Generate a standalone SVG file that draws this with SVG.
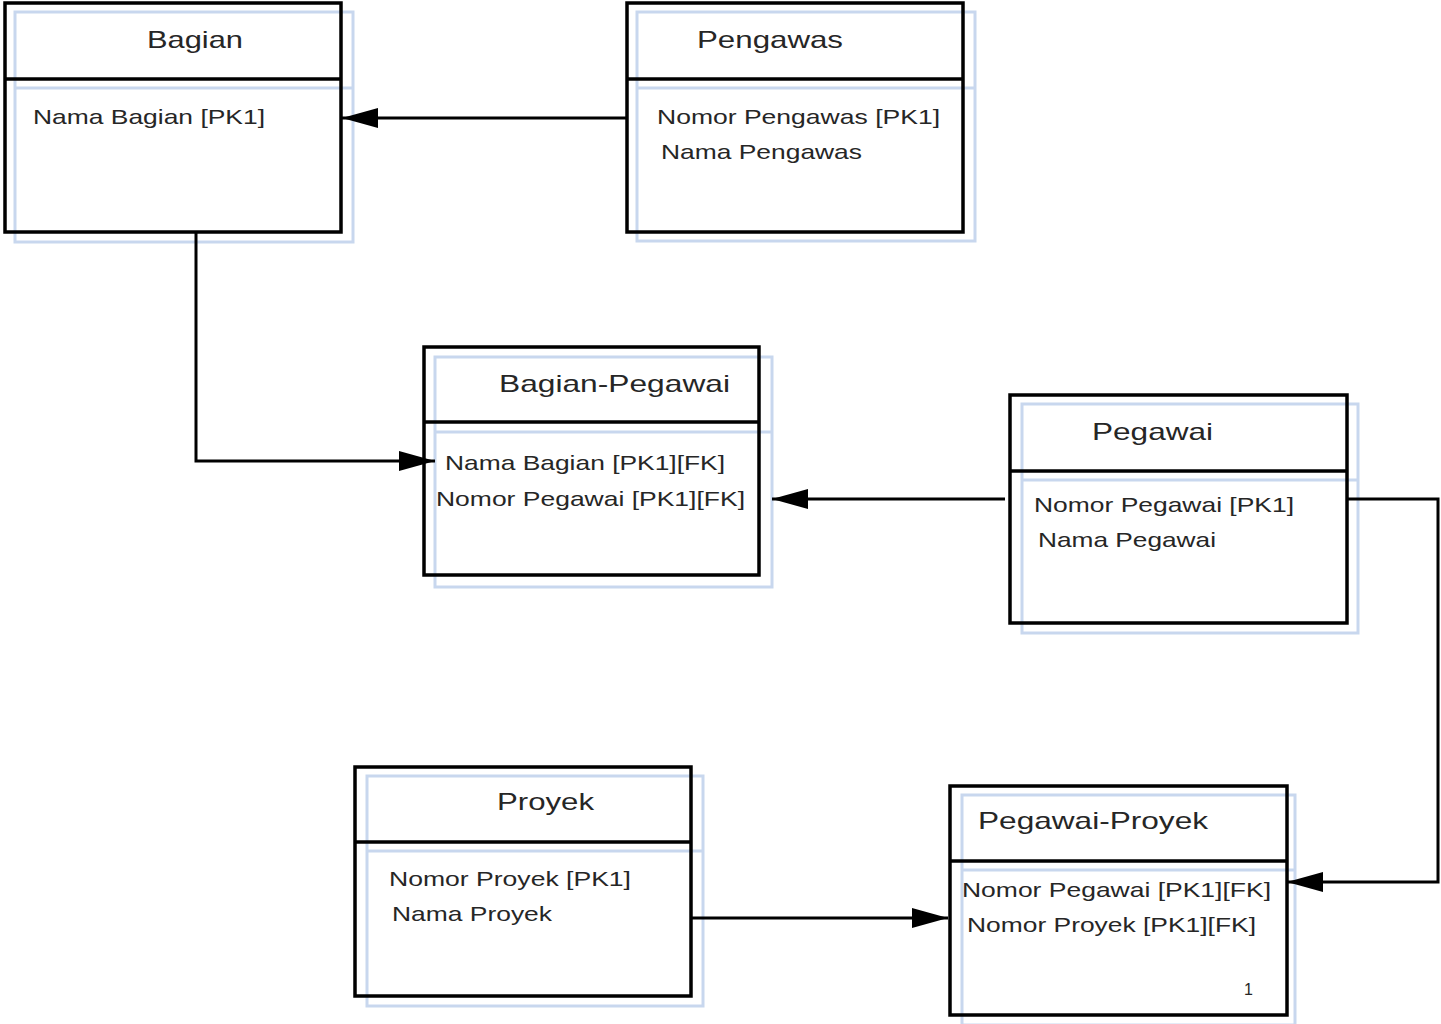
<svg xmlns="http://www.w3.org/2000/svg" width="1441" height="1024" viewBox="0 0 1441 1024">
<defs>
<style>
.bg{fill:#ffffff}
.sh{fill:none;stroke:#c8d7ee;stroke-width:3}
.bx{fill:none;stroke:#000;stroke-width:3.5}
.t{font-family:"Liberation Sans",Arial,sans-serif;font-size:24px;fill:#262626}
.a{font-family:"Liberation Sans",Arial,sans-serif;font-size:21px;fill:#262626}
.n{font-family:"Liberation Sans",Arial,sans-serif;font-size:16px;fill:#262626}
.c{fill:none;stroke:#000;stroke-width:3}
</style>
<marker id="arr" viewBox="0 0 36 20" markerWidth="36" markerHeight="20" refX="36" refY="10" orient="auto" markerUnits="userSpaceOnUse">
<path d="M0,0 L36,10 L0,20 z" fill="#000"/>
</marker>
</defs>
<rect width="1441" height="1024" fill="#fff"/>

<g id="Bagian">
<rect class="bg" x="5" y="3" width="336" height="229"/>
<rect class="sh" x="15" y="12" width="338" height="230"/>
<line class="sh" x1="15" y1="88" x2="353" y2="88"/>
<rect class="bx" x="5" y="3" width="336" height="229"/>
<line class="bx" x1="5" y1="79" x2="341" y2="79"/>
<text class="t" x="147" y="48" textLength="96" lengthAdjust="spacingAndGlyphs">Bagian</text>
<text class="a" x="33" y="124" textLength="232" lengthAdjust="spacingAndGlyphs">Nama Bagian [PK1]</text>
</g>

<g id="Pengawas">
<rect class="bg" x="627" y="3" width="336" height="229"/>
<rect class="sh" x="637" y="12" width="338" height="229"/>
<line class="sh" x1="637" y1="88" x2="975" y2="88"/>
<rect class="bx" x="627" y="3" width="336" height="229"/>
<line class="bx" x1="627" y1="79" x2="963" y2="79"/>
<text class="t" x="697" y="48" textLength="146" lengthAdjust="spacingAndGlyphs">Pengawas</text>
<text class="a" x="657" y="124" textLength="283" lengthAdjust="spacingAndGlyphs">Nomor Pengawas [PK1]</text>
<text class="a" x="661" y="159" textLength="201" lengthAdjust="spacingAndGlyphs">Nama Pengawas</text>
</g>

<g id="Bagian-Pegawai">
<rect class="bg" x="424" y="347" width="335" height="228"/>
<rect class="sh" x="435" y="357" width="337" height="230"/>
<line class="sh" x1="435" y1="432" x2="772" y2="432"/>
<rect class="bx" x="424" y="347" width="335" height="228"/>
<line class="bx" x1="424" y1="422" x2="759" y2="422"/>
<text class="t" x="499" y="392" textLength="231" lengthAdjust="spacingAndGlyphs">Bagian-Pegawai</text>
<text class="a" x="445" y="470" textLength="280" lengthAdjust="spacingAndGlyphs">Nama Bagian [PK1][FK]</text>
<text class="a" x="436" y="506" textLength="309" lengthAdjust="spacingAndGlyphs">Nomor Pegawai [PK1][FK]</text>
</g>

<g id="Pegawai">
<rect class="bg" x="1010" y="395" width="337" height="228"/>
<rect class="sh" x="1022" y="404" width="336" height="229"/>
<line class="sh" x1="1022" y1="480" x2="1358" y2="480"/>
<rect class="bx" x="1010" y="395" width="337" height="228"/>
<line class="bx" x1="1010" y1="471" x2="1347" y2="471"/>
<text class="t" x="1092" y="440" textLength="121" lengthAdjust="spacingAndGlyphs">Pegawai</text>
<text class="a" x="1034" y="512" textLength="260" lengthAdjust="spacingAndGlyphs">Nomor Pegawai [PK1]</text>
<text class="a" x="1038" y="547" textLength="178" lengthAdjust="spacingAndGlyphs">Nama Pegawai</text>
</g>

<g id="Proyek">
<rect class="bg" x="355" y="767" width="336" height="229"/>
<rect class="sh" x="367" y="776" width="336" height="230"/>
<line class="sh" x1="367" y1="851" x2="703" y2="851"/>
<rect class="bx" x="355" y="767" width="336" height="229"/>
<line class="bx" x1="355" y1="842" x2="691" y2="842"/>
<text class="t" x="497" y="810" textLength="97" lengthAdjust="spacingAndGlyphs">Proyek</text>
<text class="a" x="389" y="886" textLength="242" lengthAdjust="spacingAndGlyphs">Nomor Proyek [PK1]</text>
<text class="a" x="392" y="921" textLength="160" lengthAdjust="spacingAndGlyphs">Nama Proyek</text>
</g>

<g id="Pegawai-Proyek">
<rect class="bg" x="950" y="786" width="337" height="229"/>
<rect class="sh" x="962" y="795" width="333" height="230"/>
<line class="sh" x1="962" y1="870" x2="1295" y2="870"/>
<rect class="bx" x="950" y="786" width="337" height="229"/>
<line class="bx" x1="950" y1="861" x2="1287" y2="861"/>
<text class="t" x="978" y="829" textLength="230" lengthAdjust="spacingAndGlyphs">Pegawai-Proyek</text>
<text class="a" x="962" y="897" textLength="309" lengthAdjust="spacingAndGlyphs">Nomor Pegawai [PK1][FK]</text>
<text class="a" x="967" y="932" textLength="289" lengthAdjust="spacingAndGlyphs">Nomor Proyek [PK1][FK]</text>
<text class="n" x="1244" y="995">1</text>
</g>

<g id="connectors">
<path class="c" d="M627,118 L342,118" marker-end="url(#arr)"/>
<path class="c" d="M196,232 L196,461 L435,461" marker-end="url(#arr)"/>
<path class="c" d="M1005,499 L772,499" marker-end="url(#arr)"/>
<path class="c" d="M1347,499 L1438,499 L1438,882 L1287,882" marker-end="url(#arr)"/>
<path class="c" d="M691,918 L948,918" marker-end="url(#arr)"/>
</g>
</svg>
